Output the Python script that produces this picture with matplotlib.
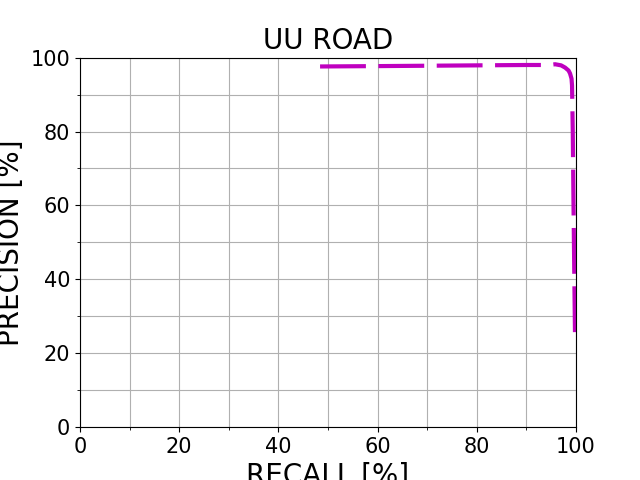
import matplotlib
matplotlib.use('Agg')
import matplotlib.pyplot as plt
from matplotlib.ticker import MultipleLocator

# Precision / recall curve
recall = [48.4, 60, 70, 80, 90, 94.5, 95.8, 97.0, 97.8, 98.5, 98.8, 99.1, 99.2, 99.35, 99.5, 99.65, 99.8]
precision = [97.6, 97.7, 97.8, 97.9, 98.0, 98.0, 98.2, 97.9, 97.3, 96.5, 95.7, 94.3, 92.5, 80, 60, 42, 25]

fig = plt.figure(figsize=(6.4, 4.8), dpi=100)
ax = fig.add_subplot(111)
ax.plot(recall, precision, color='m', linewidth=3, linestyle='--', dashes=(11, 3))

ax.set_xlim(0, 100)
ax.set_ylim(0, 100)
ax.xaxis.set_major_locator(MultipleLocator(20))
ax.xaxis.set_minor_locator(MultipleLocator(10))
ax.yaxis.set_major_locator(MultipleLocator(20))
ax.yaxis.set_minor_locator(MultipleLocator(10))
ax.grid(True, which='both')
ax.tick_params(labelsize=15)
ax.set_xlabel('RECALL [%]', fontsize=20)
ax.set_ylabel('PRECISION [%]', fontsize=20)
ax.set_title('UU ROAD', fontsize=20)

plt.savefig('out.png')
